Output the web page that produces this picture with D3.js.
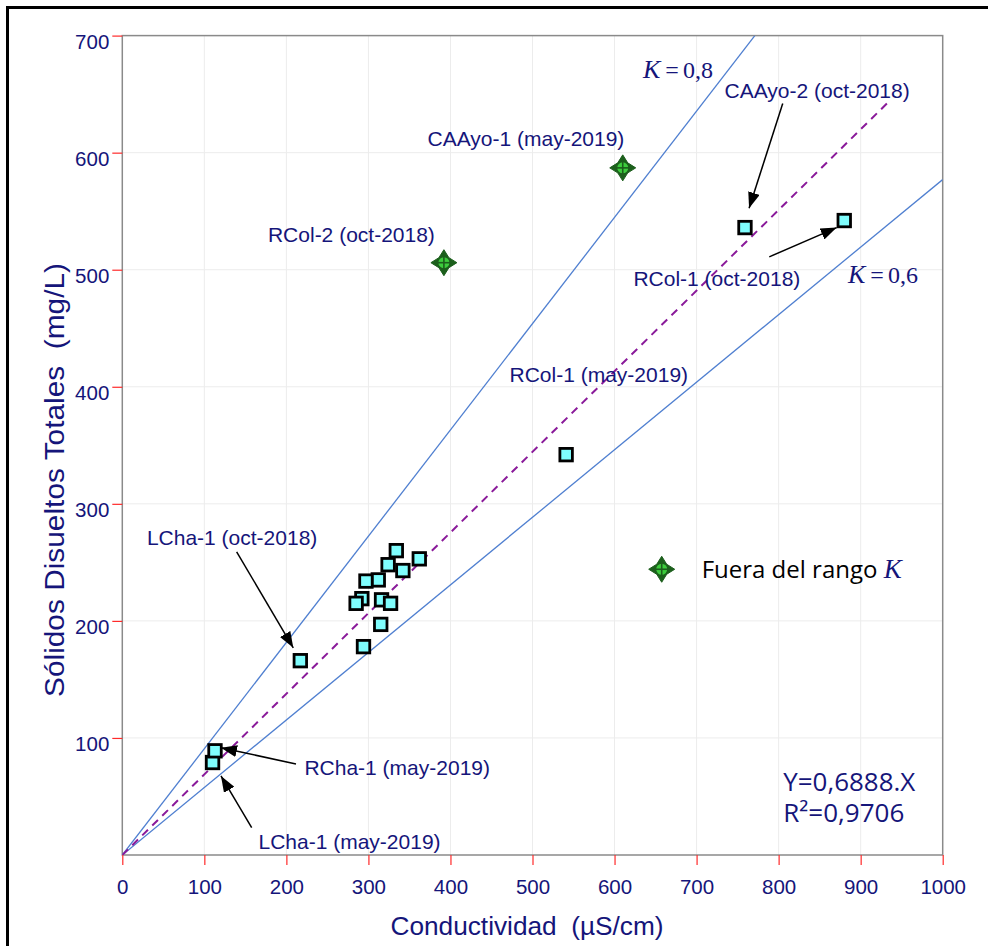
<!DOCTYPE html>
<html><head><meta charset="utf-8">
<script src="https://cdn.jsdelivr.net/npm/d3@7"></script>
<style>
html,body{margin:0;padding:0;background:#fff;}
svg{display:block;}
</style></head>
<body>
<svg id="chart" width="988" height="946"></svg>
<script>
// ---------- data ----------
const xTicks = [0,100,200,300,400,500,600,700,800,900,1000];
const yTicks = [100,200,300,400,500,600,700];
const yTickLabels = ["100","200","300","400","500","600","700"];
const xTickLabels = ["0","100","200","300","400","500","600","700","800","900","1000"];

// samples within K range (conductivity, TDS)
const sampleX = [110, 113, 217, 334, 362, 324, 342, 312, 297, 292, 285, 316, 327, 315, 294, 541, 759, 880];
const sampleY = [79, 89, 166, 260, 253, 248, 243, 235, 234, 219, 215, 218, 215, 197, 178, 342, 536, 542];

// samples out of K range
const outX = [610, 392];
const outY = [587, 506];

// K reference lines (as drawn) and regression line
const kLineX = [[0, 771], [0, 1000]];
const kLineY = [[0, 700], [0, 577]];
const kLineNames = ["K = 0,8", "K = 0,6"];
const regSlope = 0.6888;
const regXEnd = 935;
const r2 = "0,9706";

// annotation texts
const annText = ["CAAyo-1 (may-2019)", "RCol-2 (oct-2018)", "CAAyo-2 (oct-2018)", "RCol-1 (oct-2018)",
                 "RCol-1 (may-2019)", "LCha-1 (oct-2018)", "RCha-1 (may-2019)", "LCha-1 (may-2019)"];

// ---------- layout ----------
const plot = {left: 122.3, right: 942.7, top: 35.6, bottom: 855};
const annPos = [ // data coords: [x, y, anchor]
  [372, 606, "start"], [381, 524, "end"], [734, 647, "start"], [623, 486, "start"],
  [472, 404, "start"], [30, 265, "start"], [222, 68, "start"], [166, 5, "start"]];
const arrows = [ // [fromX, fromY, tipX, tipY] data coords
  [805, 642, 764, 552.5], [788.6, 511, 870.8, 536], [139.4, 259, 208.4, 177],
  [211.7, 77.7, 120.3, 91.7], [157.7, 23.3, 120.3, 67.5]];
const kLabelPos = [[634.7, 664], [884.6, 488.6]];

const navy = "#15157a";
const sans = "'Liberation Sans', Arial, sans-serif";
const serif = "'Liberation Serif', 'Times New Roman', serif";
const svg = d3.select("#chart");

const x = d3.scaleLinear().domain([0, 1000]).range([plot.left, plot.right]);
const y = d3.scaleLinear().domain([0, 700]).range([plot.bottom, plot.top]);

// outer frame
svg.append("rect").attr("x", 7.5).attr("y", 7.5).attr("width", 1100).attr("height", 1100)
  .attr("fill", "none").attr("stroke", "#000").attr("stroke-width", 3);

// grid
const g = svg.append("g");
g.selectAll(".gx").data(xTicks.slice(1, -1)).join("line")
  .attr("x1", d => x(d)).attr("x2", d => x(d)).attr("y1", plot.top).attr("y2", plot.bottom)
  .attr("stroke", "#ececec").attr("stroke-width", 1);
g.selectAll(".gy").data(yTicks.slice(0, -1)).join("line")
  .attr("y1", d => y(d)).attr("y2", d => y(d)).attr("x1", plot.left).attr("x2", plot.right)
  .attr("stroke", "#ececec").attr("stroke-width", 1);

// plot frame
svg.append("rect").attr("x", plot.left).attr("y", plot.top)
  .attr("width", plot.right - plot.left).attr("height", plot.bottom - plot.top)
  .attr("fill", "none").attr("stroke", "#8a8a8a").attr("stroke-width", 1.5);

// axes
const xAxis = d3.axisBottom(x).tickValues(xTicks).tickFormat((d, i) => xTickLabels[i]).tickSize(10).tickPadding(14);
const gx = svg.append("g").attr("transform", `translate(0,${plot.bottom})`).call(xAxis);
gx.select(".domain").remove();
gx.selectAll(".tick line").attr("stroke", "#ff2a2a").attr("stroke-width", 1.2);
gx.selectAll(".tick text").attr("fill", navy).attr("font-family", sans).attr("font-size", 20.5);

const yAxis = d3.axisLeft(y).tickValues(yTicks).tickFormat((d, i) => yTickLabels[i]).tickSize(10).tickPadding(3);
const gy = svg.append("g").attr("transform", `translate(${plot.left},0)`).call(yAxis);
gy.select(".domain").remove();
gy.selectAll(".tick line").attr("stroke", "#ff2a2a").attr("stroke-width", 1.2);
gy.selectAll(".tick text").attr("fill", navy).attr("font-family", sans)
  .attr("font-size", 20.5).attr("dy", "0.85em").attr("y", -5);

// axis titles
svg.append("text").attr("x", 527).attr("y", 935).attr("text-anchor", "middle")
  .attr("font-family", sans).attr("font-size", 26).attr("fill", navy)
  .attr("textLength", 273).attr("lengthAdjust", "spacingAndGlyphs")
  .text("Conductividad\u00a0\u00a0(\u00b5S/cm)");
svg.append("text").attr("transform", "translate(64,480) rotate(-90)").attr("text-anchor", "middle")
  .attr("font-family", sans).attr("font-size", 28).attr("fill", navy)
  .attr("textLength", 434).attr("lengthAdjust", "spacingAndGlyphs")
  .text("S\u00f3lidos Disueltos Totales\u00a0\u00a0(mg/L)");

// clip
svg.append("clipPath").attr("id", "clip").append("rect")
  .attr("x", plot.left).attr("y", plot.top).attr("width", plot.right - plot.left).attr("height", plot.bottom - plot.top);
const pg = svg.append("g").attr("clip-path", "url(#clip)");

// K lines
pg.selectAll(".kline").data(kLineX).join("line")
  .attr("x1", (d, i) => x(d[0])).attr("y1", (d, i) => y(kLineY[i][0]))
  .attr("x2", (d, i) => x(d[1])).attr("y2", (d, i) => y(kLineY[i][1]))
  .attr("stroke", "#4f7fd0").attr("stroke-width", 1.3);

// regression dashed line
pg.append("line").attr("x1", x(0)).attr("y1", y(0)).attr("x2", x(regXEnd)).attr("y2", y(regSlope * regXEnd))
  .attr("stroke", "#8a1a9a").attr("stroke-width", 2).attr("stroke-dasharray", "8,6");

// arrows
const defs = svg.append("defs");
defs.append("marker").attr("id", "ah").attr("viewBox", "0 0 16 12").attr("refX", 16).attr("refY", 6)
  .attr("markerWidth", 16).attr("markerHeight", 12).attr("markerUnits", "userSpaceOnUse").attr("orient", "auto")
  .append("path").attr("d", "M0,0 L16,6 L0,12 Z").attr("fill", "#000");
svg.selectAll(".arrow").data(arrows).join("line")
  .attr("x1", d => x(d[0])).attr("y1", d => y(d[1])).attr("x2", d => x(d[2])).attr("y2", d => y(d[3]))
  .attr("stroke", "#000").attr("stroke-width", 1.5).attr("marker-end", "url(#ah)");

// sample squares
const sq = 12.5;
svg.selectAll(".pt").data(sampleX).join("rect")
  .attr("x", (d) => x(d) - sq / 2).attr("y", (d, i) => y(sampleY[i]) - sq / 2)
  .attr("width", sq).attr("height", sq)
  .attr("fill", "#7ffdfd").attr("stroke", "#000").attr("stroke-width", 2.8);

// out-of-range markers
function starMarker(sel) {
  const r = 13, a = 5;
  sel.append("path").attr("d", `M0,${-r} L${a},${-a} L${r},0 L${a},${a} L0,${r} L${-a},${a} L${-r},0 L${-a},${-a} Z`)
    .attr("fill", "#1c5f1c").attr("stroke", "#1c5f1c").attr("stroke-width", 1).attr("stroke-linejoin", "round");
  sel.append("circle").attr("r", 6.2).attr("fill", "#3ccc3c").attr("stroke", "#1c5f1c").attr("stroke-width", 1.4);
  sel.append("line").attr("x1", -8).attr("x2", 8).attr("stroke", "#1c5f1c").attr("stroke-width", 1.6);
  sel.append("line").attr("y1", -8).attr("y2", 8).attr("stroke", "#1c5f1c").attr("stroke-width", 1.6);
}
svg.selectAll(".out").data(outX).join("g")
  .attr("transform", (d, i) => `translate(${x(d)},${y(outY[i])})`)
  .each(function () { starMarker(d3.select(this)); });

// annotation labels
svg.selectAll(".ann").data(annText).join("text")
  .attr("x", (d, i) => x(annPos[i][0])).attr("y", (d, i) => y(annPos[i][1]))
  .attr("text-anchor", (d, i) => annPos[i][2])
  .attr("font-family", sans).attr("font-size", 21).attr("fill", navy)
  .text(d => d);

// K labels
kLineNames.forEach((name, i) => {
  const parts = name.split(" ");
  const t = svg.append("text").attr("x", x(kLabelPos[i][0])).attr("y", y(kLabelPos[i][1]))
    .attr("font-family", serif).attr("fill", navy);
  t.append("tspan").attr("font-style", "italic").attr("font-size", 26).text(parts[0]);
  t.append("tspan").attr("font-size", 24).attr("dx", 5).text(parts[1]);
  t.append("tspan").attr("font-size", 24).attr("dx", 4).text(parts[2]);
});

// legend
const lg = svg.append("g").attr("transform", `translate(${x(657.5)},${y(244.1)})`);
starMarker(lg);
const lt = svg.append("text").attr("x", x(706.2)).attr("y", y(236.4))
  .attr("font-family", "'Open Sans', 'Noto Sans', sans-serif").attr("font-size", 24).attr("fill", "#000");
lt.append("tspan").text("Fuera del rango ");
lt.append("tspan").attr("font-family", serif).attr("font-style", "italic")
  .attr("font-size", 27).attr("fill", navy).text("K");

// equation
svg.append("text").attr("x", x(805.7)).attr("y", y(54.9))
  .attr("font-family", "'Open Sans', 'Noto Sans', sans-serif").attr("font-size", 25).attr("fill", navy)
  .attr("textLength", 132).attr("lengthAdjust", "spacingAndGlyphs")
  .text("Y=" + String(regSlope).replace(".", ",") + ".X");
svg.append("text").attr("x", x(805.7)).attr("y", y(28.4))
  .attr("font-family", "'Open Sans', 'Noto Sans', sans-serif").attr("font-size", 25).attr("fill", navy)
  .attr("textLength", 121).attr("lengthAdjust", "spacingAndGlyphs")
  .text("R\u00b2=" + r2);
</script>
</body></html>
